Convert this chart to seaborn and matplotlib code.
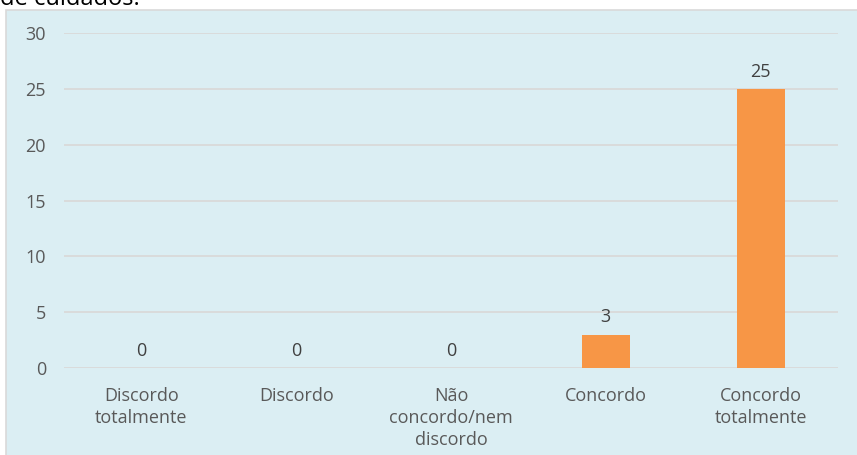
import matplotlib
matplotlib.use("Agg")
import matplotlib.pyplot as plt
import seaborn as sns
import pandas as pd
from matplotlib.patches import Rectangle

categories = ["Discordo\ntotalmente", "Discordo", "Não\nconcordo/nem\ndiscordo",
              "Concordo", "Concordo\ntotalmente"]
counts = [0, 0, 0, 3, 25]
y_ticks = [0, 5, 10, 15, 20, 25, 30]

BG = "#DBEEF3"
BAR = "#F79646"
GRID = "#D9D9D9"
TEXT = "#595959"

sns.set_theme(style="white")
plt.rcParams["font.family"] = ["Open Sans", "DejaVu Sans"]

fig = plt.figure(figsize=(8.57, 4.55), dpi=100)
fig.patch.set_facecolor("white")

# chart frame behind the axes
frame = Rectangle((6 / 857, -0.01), 1 - 6 / 857 + 0.01, 1 - 10 / 455 + 0.01,
                  transform=fig.transFigure, facecolor=BG,
                  edgecolor=GRID, linewidth=1.2, zorder=-10)
fig.patches.append(frame)

# caption line above the chart, running off the top edge
fig.text(0.0, 1 - 5 / 455, "de cuidados.", fontsize=17, color="black",
         ha="left", va="baseline", zorder=-5)

ax = fig.add_axes([64 / 857, 87 / 455, (838 - 64) / 857, (368 - 33) / 455])
ax.set_facecolor("none")
ax.set_zorder(1)

df = pd.DataFrame({"cat": categories, "n": counts})
sns.barplot(data=df, x="cat", y="n", color=BAR, width=0.31, saturation=1,
            ax=ax, zorder=3, linewidth=0)

ax.set_ylim(0, 30)
ax.set_yticks(y_ticks)
ax.set_xlim(-0.5, len(categories) - 0.5)
ax.grid(axis="y", color=GRID, linewidth=1.3, zorder=0)
ax.set_axisbelow(True)
for s in ax.spines.values():
    s.set_visible(False)
ax.set_xlabel("")
ax.set_ylabel("")
ax.tick_params(axis="y", length=0, pad=13, labelsize=13, labelcolor=TEXT)
ax.tick_params(axis="x", length=0, pad=14, labelsize=13, labelcolor=TEXT)
for lbl in ax.get_xticklabels():
    lbl.set_linespacing(1.28)

for cont in ax.containers:
    ax.bar_label(cont, labels=[str(v) for v in counts], padding=6,
                 fontsize=13, color="#404040")

fig.savefig("out.png", dpi=100, facecolor="white")
